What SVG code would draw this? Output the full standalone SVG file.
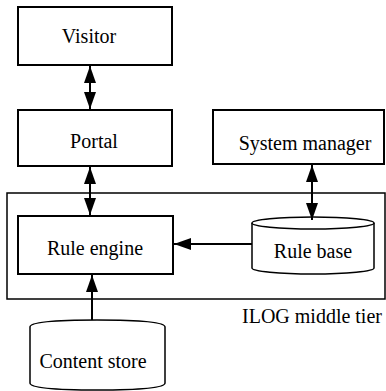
<svg xmlns="http://www.w3.org/2000/svg" width="386" height="391" viewBox="0 0 386 391" font-family="'Liberation Serif', 'Times New Roman', 'DejaVu Serif', serif">
<style>
text{font-family:'Liberation Serif','Times New Roman','DejaVu Serif',serif;font-size:20px;fill:#000}
.box{fill:#fff;stroke:#000;stroke-width:2}
.cyl{fill:#fff;stroke:#000;stroke-width:1.5}
.con{stroke:#000;stroke-width:2;fill:none}
</style>
<defs>
<marker id="ah" markerUnits="userSpaceOnUse" markerWidth="18" markerHeight="13" refX="17" refY="6" orient="auto-start-reverse">
<path d="M0,0 L17,6 L0,12 z" fill="#000"/>
</marker>
</defs>
<rect width="386" height="391" fill="#fff"/>
<g id="ilog-middle-tier">
<rect x="7" y="193" width="378" height="106" fill="none" stroke="#000" stroke-width="1.5"/>
<text x="242" y="323">ILOG middle tier</text>
</g>
<g id="visitor">
<rect class="box" x="18" y="7" width="154" height="58"/>
<text x="89" y="43" text-anchor="middle">Visitor</text>
</g>
<g id="portal">
<rect class="box" x="18" y="110" width="154" height="56"/>
<text x="94" y="148" text-anchor="middle">Portal</text>
</g>
<g id="system-manager">
<rect class="box" x="213" y="110" width="171" height="54"/>
<text x="305" y="150" text-anchor="middle">System manager</text>
</g>
<g id="rule-engine">
<rect class="box" x="18" y="216" width="155" height="58"/>
<text x="95" y="255" text-anchor="middle">Rule engine</text>
</g>
<g id="rule-base">
<path class="cyl" d="M252,223 L252,268 A61,6 0 0 0 374,268 L374,223 A61,6 0 0 0 252,223 Z"/>
<path class="cyl" d="M252,223 A61,6 0 0 0 374,223" fill="none"/>
<text x="313" y="258" text-anchor="middle">Rule base</text>
</g>
<g id="content-store">
<path class="cyl" d="M30,327 L30,383 Q30,390 97,390 Q165,390 165,383 L165,327 Q165,320 97,320 Q30,320 30,327 Z" stroke-width="1"/>
<text x="93" y="368" text-anchor="middle">Content store</text>
</g>
<g id="connectors">
<line class="con" x1="90" y1="66" x2="90" y2="109" marker-start="url(#ah)" marker-end="url(#ah)"/>
<line class="con" x1="90" y1="167" x2="90" y2="215" marker-start="url(#ah)" marker-end="url(#ah)"/>
<line class="con" x1="312" y1="165" x2="312" y2="220" marker-start="url(#ah)" marker-end="url(#ah)"/>
<line class="con" x1="252" y1="244" x2="174" y2="244" marker-end="url(#ah)"/>
<line class="con" x1="92" y1="320" x2="92" y2="275" marker-end="url(#ah)"/>
</g>
</svg>
